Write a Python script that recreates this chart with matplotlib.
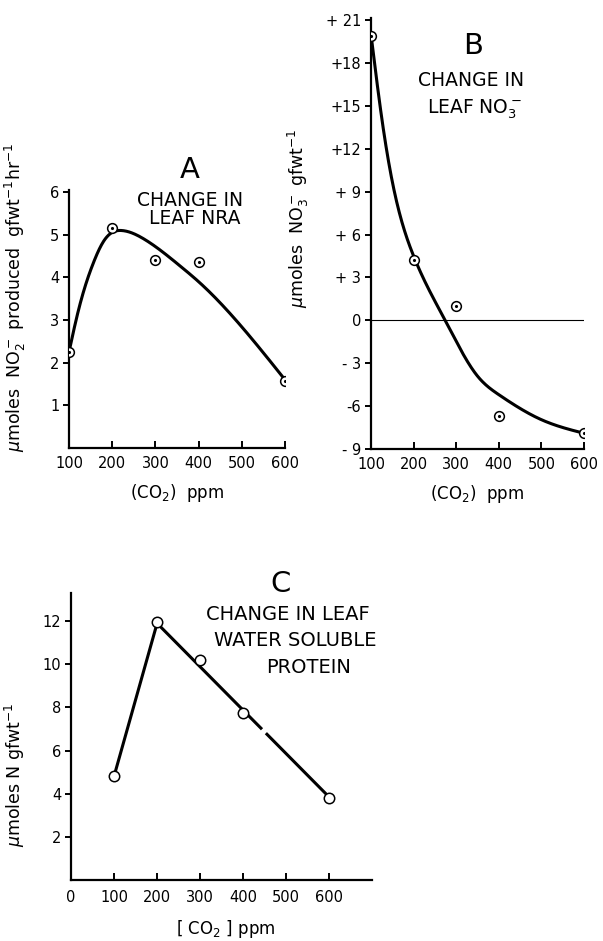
"""Three-panel CO2 response figure (leaf NRA, leaf NO3-, water soluble protein)."""

import matplotlib

matplotlib.use("Agg")

import matplotlib.pyplot as plt
import numpy as np

# ---- data ----
CO2_PPM = [100, 200, 300, 400, 600]

NRA_OBS = [2.25, 5.15, 4.42, 4.35, 1.57]
NRA_FIT_X = [100, 118, 137, 156, 179, 199, 222, 272, 357, 400, 500, 600]
NRA_FIT_Y = [2.25, 3.07, 3.78, 4.33, 4.83, 5.05, 5.1, 4.91, 4.27, 3.9, 2.84, 1.6]

NO3_OBS = [19.9, 4.2, 1.0, -6.7, -7.9]
NO3_FIT_X = [100, 125, 150, 200, 274, 350, 400, 500, 600]
NO3_FIT_Y = [20.0, 14.2, 9.7, 4.5, 0.0, -3.9, -5.2, -6.95, -7.9]

PROT_OBS = [4.8, 11.95, 10.2, 7.75, 3.8]
PROT_LINE_X = [100, 200, 600]
PROT_LINE_Y = [4.8, 11.9, 3.85]
PROT_GAP = (442, 455)

X_TICKS_AB = [100, 200, 300, 400, 500, 600]
X_TICKS_C = [0, 100, 200, 300, 400, 500, 600]
Y_TICKS_A = [1, 2, 3, 4, 5, 6]
Y_TICKS_B = [-9, -6, -3, 0, 3, 6, 9, 12, 15, 18, 21]
Y_LABELS_B = ["- 9", "-6", "- 3", "0", "+ 3", "+ 6", "+ 9", "+12", "+15", "+18", "+ 21"]
Y_TICKS_C = [2, 4, 6, 8, 10, 12]

W, H = 603, 941


def natural_spline(xs, ys, n=400):
    """Natural cubic spline through the hand-read knots of the drawn curve."""
    x = np.asarray(xs, float)
    y = np.asarray(ys, float)
    k = len(x)
    h = np.diff(x)
    A = np.zeros((k, k))
    b = np.zeros(k)
    A[0, 0] = A[-1, -1] = 1
    for i in range(1, k - 1):
        A[i, i - 1] = h[i - 1]
        A[i, i] = 2 * (h[i - 1] + h[i])
        A[i, i + 1] = h[i]
        b[i] = 6 * ((y[i + 1] - y[i]) / h[i] - (y[i] - y[i - 1]) / h[i - 1])
    M = np.linalg.solve(A, b)
    xx = np.linspace(x[0], x[-1], n)
    idx = np.clip(np.searchsorted(x, xx) - 1, 0, k - 2)
    x0, x1, hi = x[idx], x[idx + 1], h[idx]
    yy = (M[idx] * (x1 - xx) ** 3 / (6 * hi) + M[idx + 1] * (xx - x0) ** 3 / (6 * hi)
          + (y[idx] / hi - M[idx] * hi / 6) * (x1 - xx)
          + (y[idx + 1] / hi - M[idx + 1] * hi / 6) * (xx - x0))
    return xx, yy


def ax_rect(left, top, right, bottom):
    return [left / W, 1 - bottom / H, (right - left) / W, (bottom - top) / H]


def style_axes(ax):
    for side in ("top", "right"):
        ax.spines[side].set_visible(False)
    for side in ("left", "bottom"):
        ax.spines[side].set_linewidth(1.6)
    ax.tick_params(axis="y", direction="out", length=4, width=1.4, labelsize=10.5, pad=3)
    ax.tick_params(axis="x", direction="in", length=5, width=1.4, labelsize=10.5, pad=6)


def dotted_circles(ax, x, y):
    ax.plot(x, y, "o", ms=7, mfc="white", mec="black", mew=1.1, zorder=4)
    ax.plot(x, y, ".", ms=2.5, color="black", zorder=5)


plt.rcParams["font.family"] = ["DejaVu Sans"]
fig = plt.figure(figsize=(W / 100, H / 100), dpi=100)

# ---- Panel A ----
axA = fig.add_axes(ax_rect(69, 190, 285, 448))
cx, cy = natural_spline(NRA_FIT_X, NRA_FIT_Y)
axA.plot(cx, cy, color="black", lw=2.2, zorder=3)
dotted_circles(axA, CO2_PPM, NRA_OBS)
axA.set_xlim(100, 600)
axA.set_ylim(0, 6.05)
axA.set_xticks(X_TICKS_AB)
axA.set_yticks(Y_TICKS_A)
style_axes(axA)
axA.set_xlabel("(CO$_2$)  ppm", fontsize=12, labelpad=8)
axA.set_ylabel(r"$\mu$moles  NO$_2^-$ produced  gfwt$^{-1}$hr$^{-1}$", fontsize=12.5)
axA.yaxis.set_label_coords(-0.19, 0.585)
axA.text(380, 6.52, "A", fontsize=21, ha="center", va="center", clip_on=False)
axA.text(380, 5.8, "CHANGE IN", fontsize=13.5, ha="center", va="center")
axA.text(392, 5.38, "LEAF NRA", fontsize=13.5, ha="center", va="center")

# ---- Panel B ----
axB = fig.add_axes(ax_rect(371, 18, 584, 449))
axB.axhline(0, color="black", lw=0.8, zorder=2)
cx, cy = natural_spline(NO3_FIT_X, NO3_FIT_Y)
axB.plot(cx, cy, color="black", lw=2.2, zorder=3)
dotted_circles(axB, CO2_PPM, NO3_OBS)
axB.set_xlim(100, 600)
axB.set_ylim(-9, 21.15)
axB.set_xticks(X_TICKS_AB)
axB.set_yticks(Y_TICKS_B)
axB.set_yticklabels(Y_LABELS_B)
style_axes(axB)
axB.set_xlabel("(CO$_2$)  ppm", fontsize=12, labelpad=8)
axB.set_ylabel(r"$\mu$moles  NO$_3^-$ gfwt$^{-1}$", fontsize=12.5)
axB.yaxis.set_label_coords(-0.28, 0.536)
axB.text(340, 19.2, "B", fontsize=21, ha="center", va="center")
axB.text(335, 16.8, "CHANGE IN", fontsize=13.5, ha="center", va="center")
axB.text(342, 14.8, "LEAF NO$_3^-$", fontsize=13.5, ha="center", va="center")

# ---- Panel C ----
axC = fig.add_axes(ax_rect(71, 593, 372, 880))
gx = np.linspace(PROT_LINE_X[0], PROT_LINE_X[-1], 500)
gy = np.interp(gx, PROT_LINE_X, PROT_LINE_Y)
gy[(gx > PROT_GAP[0]) & (gx < PROT_GAP[1])] = np.nan
axC.plot(gx, gy, color="black", lw=2.2, zorder=3)
axC.plot(CO2_PPM, PROT_OBS, "o", ms=7.5, mfc="white", mec="black", mew=1.1, zorder=4)
axC.set_xlim(0, 700)
axC.set_ylim(0, 13.3)
axC.set_xticks(X_TICKS_C)
axC.set_yticks(Y_TICKS_C)
style_axes(axC)
axC.xaxis.get_major_ticks()[0].tick1line.set_visible(False)
axC.tick_params(axis="x", pad=7)
axC.set_ylabel(r"$\mu$moles N gfwt$^{-1}$", fontsize=12.5)
axC.yaxis.set_label_coords(-0.146, 0.366)
fig.text(226 / W, 1 - 929 / H, "[ CO$_2$ ] ppm", fontsize=12, ha="center", va="center")
axC.text(488, 13.7, "C", fontsize=21, ha="center", va="center", clip_on=False)
axC.text(505, 12.3, "CHANGE IN LEAF", fontsize=14, ha="center", va="center")
axC.text(522, 11.1, "WATER SOLUBLE", fontsize=14, ha="center", va="center")
axC.text(552, 9.85, "PROTEIN", fontsize=14, ha="center", va="center")

fig.savefig("out.png", dpi=100, facecolor="white")
